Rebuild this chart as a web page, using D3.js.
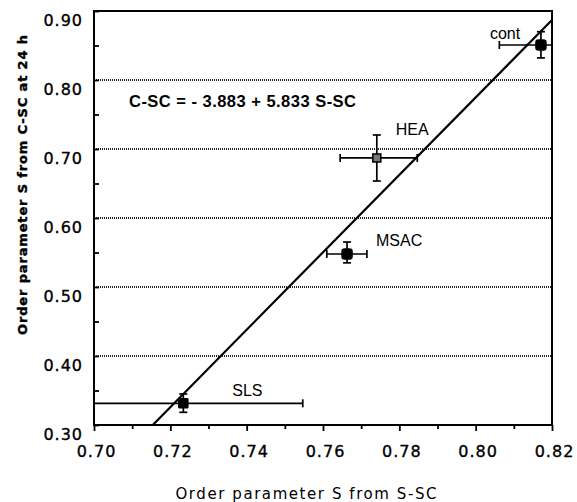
<!DOCTYPE html>
<html>
<head>
<meta charset="utf-8">
<script src="https://cdn.jsdelivr.net/npm/d3@7"></script>
<style>
  html, body { margin: 0; padding: 0; background: #fff; }
  svg { display: block; }
</style>
</head>
<body>
<div id="chart"></div>
<script>
// ---------- data ----------
const categories = ["cont", "HEA", "MSAC", "SLS"];
const xValues = [0.8171, 0.7741, 0.7663, 0.7234];   // S from S-SC
const yValues = [0.8507, 0.6870, 0.5478, 0.3314];   // S from C-SC at 24 h
const xLow  = [0.8062, 0.7645, 0.7610, 0.6921];
const xHigh = [0.8280, 0.7847, 0.7715, 0.7547];
const yLow  = [0.8320, 0.6536, 0.5350, 0.3184];
const yHigh = [0.8700, 0.7203, 0.5652, 0.3450];

const fitX = [0.7154, 0.8200];
const fitY = [0.3000, 0.8870];
const equationText = "C-SC = - 3.883 + 5.833 S-SC";

const xTickLabels = [0.70, 0.72, 0.74, 0.76, 0.78, 0.80, 0.82];
const xMinorTicks = [0.71, 0.73, 0.75, 0.77, 0.79, 0.81];
const yTickLabels = [0.30, 0.40, 0.50, 0.60, 0.70, 0.80, 0.90];
const yMinorTicks = [0.35, 0.45, 0.55, 0.65, 0.75, 0.85];
const gridValues = [0.40, 0.50, 0.60, 0.70, 0.80];

const xTitle = "Order parameter S from S-SC";
const yTitle = "Order parameter S from C-SC at 24 h";

// ---------- layout ----------
const W = 577, H = 502;
const plotL = 94, plotR = 552, plotT = 11, plotB = 425;

const x = d3.scaleLinear().domain([0.70, 0.82]).range([plotL, plotR]);
const y = d3.scaleLinear().domain([0.30, 0.90]).range([plotB, plotT]);

const svg = d3.select("#chart").append("svg")
  .attr("width", W).attr("height", H);

svg.append("defs").append("clipPath").attr("id", "plotClip")
  .append("rect").attr("x", plotL).attr("y", plotT)
  .attr("width", plotR - plotL).attr("height", plotB - plotT);

// gridlines
svg.append("g").selectAll("line").data(gridValues).join("line")
  .attr("x1", x(0.70)).attr("x2", x(0.82))
  .attr("y1", d => y(d)).attr("y2", d => y(d))
  .attr("stroke", "#222").attr("stroke-width", 1.8)
  .attr("stroke-dasharray", "1,1");

// x axis (major + minor ticks, outward)
const xAxis = svg.append("g").attr("transform", `translate(0,${plotB})`)
  .call(d3.axisBottom(x).tickValues(xTickLabels).tickSize(6).tickFormat(d3.format(".2f")));
xAxis.select(".domain").remove();
xAxis.selectAll(".tick line").attr("stroke", "#000").attr("stroke-width", 1.8);
xAxis.selectAll("text")
  .attr("y", 0).attr("dy", 32).attr("dx", 2)
  .attr("font-family", "DejaVu Sans").attr("font-size", 16)
  .attr("letter-spacing", "1px").attr("fill", "#000")
  .attr("stroke", "#000").attr("stroke-width", 0.35);

const xMinor = svg.append("g").attr("transform", `translate(0,${plotB})`)
  .call(d3.axisBottom(x).tickValues(xMinorTicks).tickSize(4).tickFormat(""));
xMinor.select(".domain").remove();
xMinor.selectAll(".tick line").attr("stroke", "#000").attr("stroke-width", 1.8);

// y axis (ticks inside)
const yAxis = svg.append("g").attr("transform", `translate(${plotL},0)`)
  .call(d3.axisLeft(y).tickValues(yTickLabels).tickSizeInner(-5).tickSizeOuter(0)
    .tickPadding(11).tickFormat(d3.format(".2f")));
yAxis.select(".domain").remove();
yAxis.selectAll(".tick line").attr("stroke", "#000").attr("stroke-width", 1.8);
yAxis.selectAll("text")
  .attr("dy", 14)
  .attr("font-family", "DejaVu Sans").attr("font-size", 16)
  .attr("letter-spacing", "1px").attr("fill", "#000")
  .attr("stroke", "#000").attr("stroke-width", 0.35);

const yMinor = svg.append("g").attr("transform", `translate(${plotL},0)`)
  .call(d3.axisLeft(y).tickValues(yMinorTicks).tickSizeInner(-5).tickSizeOuter(0).tickFormat(""));
yMinor.select(".domain").remove();
yMinor.selectAll(".tick line").attr("stroke", "#000").attr("stroke-width", 1.8);

// frame
svg.append("rect")
  .attr("x", x(0.70)).attr("y", y(0.90))
  .attr("width", x(0.82) - x(0.70)).attr("height", y(0.30) - y(0.90))
  .attr("fill", "none").attr("stroke", "#000").attr("stroke-width", 2);

// regression line
svg.append("line")
  .attr("clip-path", "url(#plotClip)")
  .attr("x1", x(fitX[0])).attr("y1", y(fitY[0]))
  .attr("x2", x(fitX[1])).attr("y2", y(fitY[1]))
  .attr("stroke", "#000").attr("stroke-width", 2.2);

// data points with error bars
const pts = categories.map((c, i) => ({
  name: c, x: xValues[i], y: yValues[i],
  xl: xLow[i], xh: xHigh[i], yl: yLow[i], yh: yHigh[i]
}));

const eb = svg.append("g").attr("clip-path", "url(#plotClip)")
  .attr("stroke", "#000").attr("stroke-width", 1.7).attr("fill", "none");
const cap = 4;
pts.forEach(p => {
  const g = eb.append("g");
  g.append("line").attr("x1", x(p.xl)).attr("x2", x(p.xh)).attr("y1", y(p.y)).attr("y2", y(p.y));
  g.append("line").attr("x1", x(p.xl)).attr("x2", x(p.xl)).attr("y1", y(p.y) - cap).attr("y2", y(p.y) + cap);
  g.append("line").attr("x1", x(p.xh)).attr("x2", x(p.xh)).attr("y1", y(p.y) - cap).attr("y2", y(p.y) + cap);
  g.append("line").attr("x1", x(p.x)).attr("x2", x(p.x)).attr("y1", y(p.yl)).attr("y2", y(p.yh));
  g.append("line").attr("x1", x(p.x) - cap).attr("x2", x(p.x) + cap).attr("y1", y(p.yl)).attr("y2", y(p.yl));
  g.append("line").attr("x1", x(p.x) - cap).attr("x2", x(p.x) + cap).attr("y1", y(p.yh)).attr("y2", y(p.yh));
});

// markers
const markerStyle = {
  cont: { size: 10, rx: 2.5, fill: "#000" },
  HEA:  { size: 8,  rx: 0,   fill: "#777" },
  MSAC: { size: 10, rx: 2.5, fill: "#000" },
  SLS:  { size: 9,  rx: 0.5, fill: "#000" }
};
svg.append("g").selectAll("rect").data(pts).join("rect")
  .attr("x", d => x(d.x) - markerStyle[d.name].size / 2)
  .attr("y", d => y(d.y) - markerStyle[d.name].size / 2)
  .attr("width", d => markerStyle[d.name].size)
  .attr("height", d => markerStyle[d.name].size)
  .attr("rx", d => markerStyle[d.name].rx)
  .attr("fill", d => markerStyle[d.name].fill)
  .attr("stroke", "#000").attr("stroke-width", 1.5);

// point labels
const labelOffset = {
  cont: [-51, -6], HEA: [19, -23], MSAC: [29, -8], SLS: [49, -7]
};
svg.append("g").selectAll("text").data(pts).join("text")
  .attr("x", d => x(d.x) + labelOffset[d.name][0])
  .attr("y", d => y(d.y) + labelOffset[d.name][1])
  .attr("font-family", "Liberation Sans, Arial, sans-serif")
  .attr("font-size", 16).attr("fill", "#000")
  .text(d => d.name);

// equation
svg.append("text")
  .attr("x", 129).attr("y", 106.5)
  .attr("font-family", "Liberation Sans, Arial, sans-serif")
  .attr("font-weight", "bold").attr("font-size", 16.5)
  .attr("textLength", 227).attr("lengthAdjust", "spacing")
  .attr("fill", "#000")
  .text(equationText);

// axis titles
svg.append("text")
  .attr("x", 306).attr("y", 499)
  .attr("text-anchor", "middle")
  .attr("font-family", "DejaVu Sans").attr("font-size", 15)
  .attr("textLength", 261).attr("lengthAdjust", "spacing")
  .attr("fill", "#000")
  .text(xTitle);

svg.append("text")
  .attr("transform", "translate(27,185) rotate(-90)")
  .attr("text-anchor", "middle")
  .attr("font-family", "DejaVu Sans").attr("font-weight", "bold").attr("font-size", 13)
  .attr("textLength", 300).attr("lengthAdjust", "spacing")
  .attr("fill", "#000").attr("stroke", "#000").attr("stroke-width", 0.4)
  .text(yTitle);
</script>
</body>
</html>
